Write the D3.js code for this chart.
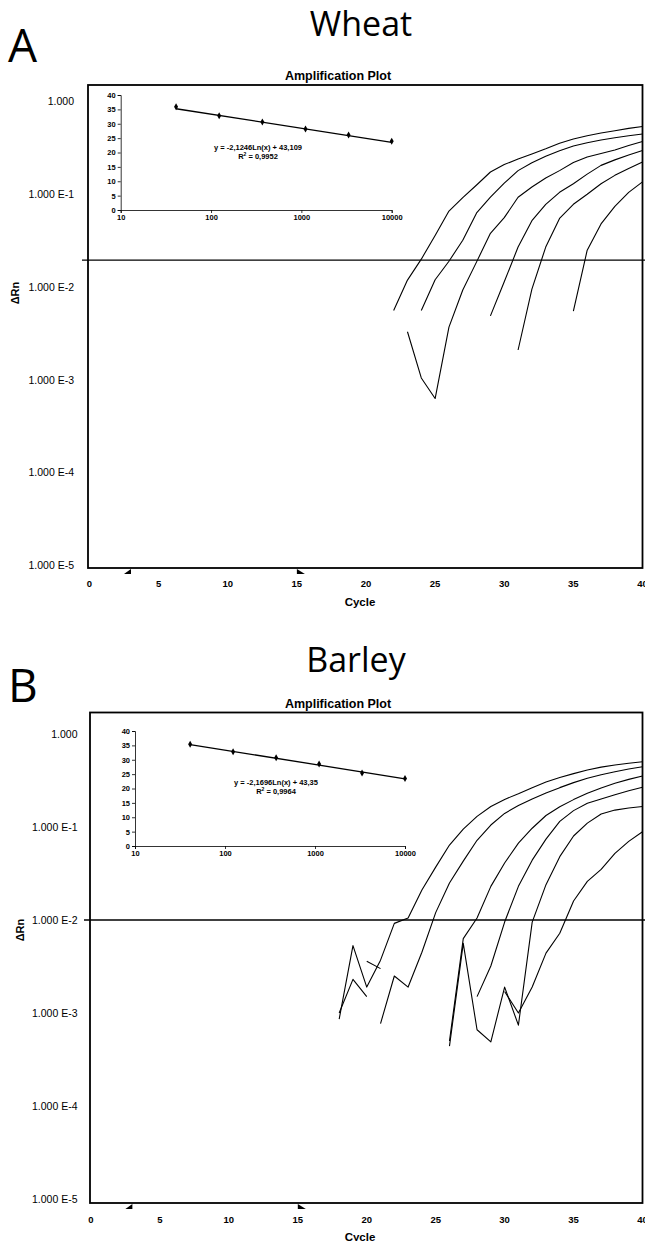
<!DOCTYPE html>
<html>
<head>
<meta charset="utf-8">
<script src="https://cdnjs.cloudflare.com/ajax/libs/d3/7.8.5/d3.min.js"></script>
<style>
  body { margin: 0; background: #fff; }
  svg { display: block; }
  text { font-family: "Liberation Sans", Arial, sans-serif; fill: #000; }
</style>
</head>
<body>
<svg id="chart" width="645" height="1241"></svg>
<script>
// axis ticks
const cycleTicks = [0, 5, 10, 15, 20, 25, 30, 35, 40];
const rnTicks = [1, 0.1, 0.01, 0.001, 0.0001, 0.00001];
const rnTickLabels = ["1.000", "1.000 E-1", "1.000 E-2", "1.000 E-3", "1.000 E-4", "1.000 E-5"];
const baselineMarks = [3, 15];

// standard curve insets
const stdConc = [41, 123, 370, 1111, 3333, 10000];
const stdTicksX = [10, 100, 1000, 10000];
const stdTicksY = [0, 5, 10, 15, 20, 25, 30, 35, 40];
const wheatCt = [35.9, 32.8, 30.6, 28.2, 26.1, 23.9];
const barleyCt = [35.4, 32.8, 30.7, 28.5, 25.4, 23.5];
const wheatFit = [-2.1246, 43.109];
const barleyFit = [-2.1696, 43.35];
const wheatEq = ["y = -2,1246Ln(x) + 43,109", "0,9952"];
const barleyEq = ["y = -2,1696Ln(x) + 43,35", "0,9964"];

// thresholds
const wheatThreshold = 0.0195;
const barleyThreshold = 0.01;

// amplification curves: first cycle + delta Rn per cycle (null = not plotted)
const wheatStart = [22, 24, 23, 29, 31, 35];
const wheatRn = [
  [0.0056, 0.0119, 0.02, 0.036, 0.066, 0.092, 0.126, 0.174, 0.209, 0.24, 0.272, 0.309, 0.355, 0.394, 0.427, 0.457, 0.484, 0.513, 0.537],
  [0.0056, 0.012, 0.019, 0.032, 0.063, 0.093, 0.132, 0.18, 0.219, 0.257, 0.295, 0.331, 0.359, 0.385, 0.407, 0.427, 0.447],
  [0.0033, 0.00105, 0.00063, 0.0037, 0.0093, 0.0187, 0.038, 0.056, 0.093, 0.12, 0.15, 0.18, 0.22, 0.252, 0.275, 0.30, 0.335, 0.37],
  [0.0049, 0.0114, 0.027, 0.052, 0.078, 0.105, 0.13, 0.165, 0.205, 0.235, 0.265, 0.297],
  [0.0021, 0.0095, 0.027, 0.055, 0.078, 0.1, 0.13, 0.16, 0.19, 0.223],
  [0.0055, 0.025, 0.048, 0.074, 0.105, 0.136]
];
const barleyStart = [18, 21, 18, 20, 26, 30];
const barleyRn = [
  [0.00086, 0.0053, 0.0019, 0.0037, 0.0092, 0.0105, 0.021, 0.037, 0.064, 0.095, 0.13, 0.166, 0.198, 0.228, 0.265, 0.304, 0.34, 0.375, 0.41, 0.44, 0.465, 0.485, 0.504],
  [0.00077, 0.0025, 0.0019, 0.0045, 0.012, 0.025, 0.043, 0.072, 0.105, 0.14, 0.17, 0.2, 0.232, 0.265, 0.3, 0.334, 0.365, 0.393, 0.42, 0.445],
  [0.001, 0.0023, 0.0015, null, null, null, null, null, 0.0005, 0.0063, 0.0105, 0.023, 0.041, 0.067, 0.097, 0.133, 0.165, 0.197, 0.23, 0.263, 0.295, 0.325, 0.353],
  [0.0036, 0.003, null, null, null, null, null, null, 0.0015, 0.0032, 0.0095, 0.023, 0.044, 0.074, 0.115, 0.15, 0.18, 0.2, 0.222, 0.245, 0.267],
  [0.00044, 0.0056, 0.00066, 0.00049, 0.0019, 0.00074, 0.0095, 0.024, 0.048, 0.08, 0.11, 0.138, 0.152, 0.16, 0.166],
  [0.0017, 0.001, 0.0019, 0.0044, 0.0072, 0.016, 0.026, 0.035, 0.052, 0.07, 0.089]
];

const svg = d3.select("#chart");

function drawPanel(p) {
  const g = svg.append("g");
  const x = d3.scaleLinear().domain([0, 40]).range(p.xRange);
  const y = d3.scaleLog().domain([1e-5, 1]).range(p.yRange);

  // headings
  g.append("text").attr("x", p.titleX).attr("y", p.titleY)
    .attr("text-anchor", "middle")
    .style("font-family", "'Open Sans', sans-serif").style("font-size", "34px")
    .text(p.name);
  g.append("text").attr("x", 8).attr("y", p.letterY)
    .style("font-family", "'Open Sans', sans-serif").style("font-size", "46px")
    .text(p.letter);
  g.append("text").attr("x", 338).attr("y", p.box.t - 5)
    .attr("text-anchor", "middle")
    .style("font-weight", "bold").style("font-size", "12.5px")
    .text("Amplification Plot");

  // plot frame
  g.append("rect")
    .attr("x", p.box.l).attr("y", p.box.t)
    .attr("width", p.box.r - p.box.l).attr("height", p.box.b - p.box.t)
    .attr("fill", "none").attr("stroke", "#000").attr("stroke-width", 1.8);

  // y tick labels
  g.selectAll(".ylab").data(rnTicks).join("text")
    .attr("x", p.yLabelX).attr("y", d => y(d)).attr("dy", "0.35em")
    .attr("text-anchor", "end").style("font-size", "10.5px")
    .text((d, i) => rnTickLabels[i]);
  g.append("text")
    .attr("transform", `translate(${p.rnLabel[0]},${p.rnLabel[1]}) rotate(-90)`)
    .attr("text-anchor", "middle").attr("dy", "0.35em")
    .style("font-weight", "bold").style("font-size", "11px")
    .text("\u0394Rn");

  // x tick labels
  g.selectAll(".xlab").data(cycleTicks).join("text")
    .attr("x", d => x(d)).attr("y", p.xLabelY)
    .attr("text-anchor", "middle")
    .style("font-weight", "bold").style("font-size", "9.5px")
    .text(d => d);
  g.append("text").attr("x", 360).attr("y", p.cycleY)
    .attr("text-anchor", "middle")
    .style("font-weight", "bold").style("font-size", "11.5px")
    .text("Cycle");

  // baseline start / end markers
  const by = p.box.b + 1;
  g.append("path")
    .attr("d", `M${x(baselineMarks[0])},${by} L${x(baselineMarks[0])},${by + 5} L${x(baselineMarks[0]) - 7},${by + 5} Z`)
    .attr("fill", "#000");
  g.append("path")
    .attr("d", `M${x(baselineMarks[1])},${by} L${x(baselineMarks[1])},${by + 5} L${x(baselineMarks[1]) + 8},${by + 5} Z`)
    .attr("fill", "#000");

  // threshold
  g.append("line")
    .attr("x1", p.box.l - 6).attr("x2", 645)
    .attr("y1", y(p.threshold)).attr("y2", y(p.threshold))
    .attr("stroke", "#000").attr("stroke-width", 1.3);

  // amplification curves
  const line = d3.line()
    .defined(d => d[1] != null)
    .x(d => x(d[0])).y(d => y(d[1]));
  const curves = p.rn.map((vals, i) => vals.map((v, j) => [p.start[i] + j, v]));
  g.selectAll(".curve").data(curves).join("path")
    .attr("d", line)
    .attr("fill", "none").attr("stroke", "#000").attr("stroke-width", 1.1)
    .attr("stroke-linejoin", "round");

  // standard curve inset
  const ix = d3.scaleLog().domain([10, 10000]).range([p.inset.l, p.inset.r]);
  const iy = d3.scaleLinear().domain([0, 40]).range([p.inset.b, p.inset.t]);
  const ia = g.append("g");
  ia.append("g").attr("transform", `translate(0,${p.inset.b})`)
    .call(d3.axisBottom(ix).tickValues(stdTicksX).tickSize(3).tickPadding(2).tickFormat(d3.format("d")));
  ia.append("g").attr("transform", `translate(${p.inset.l},0)`)
    .call(d3.axisLeft(iy).tickValues(stdTicksY).tickSize(3).tickPadding(2));
  ia.selectAll("text").style("font-family", "'Liberation Sans', Arial, sans-serif")
    .style("font-size", "7.5px").style("font-weight", "bold");
  ia.selectAll("path, line").attr("stroke", "#000").attr("stroke-width", 0.8);

  const ends = [stdConc[0], stdConc[stdConc.length - 1]];
  g.append("path")
    .attr("d", d3.line().x(d => ix(d)).y(d => iy(p.fit[0] * Math.log(d) + p.fit[1]))(ends))
    .attr("stroke", "#000").attr("stroke-width", 1.3).attr("fill", "none");
  g.selectAll(".pt").data(stdConc).join("path")
    .attr("transform", (d, i) => `translate(${ix(d)},${iy(p.ct[i])})`)
    .attr("d", d3.symbol(d3.symbolDiamond, 14))
    .attr("fill", "#000");

  g.append("text").attr("x", p.eqX).attr("y", p.eqY)
    .attr("text-anchor", "middle")
    .style("font-size", "7.5px").style("font-weight", "bold")
    .text(p.eq[0]);
  const r2 = g.append("text").attr("x", p.eqX).attr("y", p.eqY + 8.5)
    .attr("text-anchor", "middle")
    .style("font-size", "7.5px").style("font-weight", "bold");
  r2.append("tspan").text("R");
  r2.append("tspan").attr("dy", -3).style("font-size", "5px").text("2");
  r2.append("tspan").attr("dy", 3).text(" = " + p.eq[1]);
}

drawPanel({
  name: "Wheat", letter: "A", titleX: 361, titleY: 36, letterY: 62,
  box: { l: 88, t: 85, r: 642.5, b: 568 },
  xRange: [89.5, 642.5], yRange: [565.5, 101.5],
  yLabelX: 74, rnLabel: [15, 293], xLabelY: 586.5, cycleY: 606,
  inset: { l: 120.7, r: 391.7, t: 95, b: 210 },
  eqX: 258, eqY: 150,
  threshold: wheatThreshold, start: wheatStart, rn: wheatRn,
  ct: wheatCt, fit: wheatFit, eq: wheatEq
});

drawPanel({
  name: "Barley", letter: "B", titleX: 356, titleY: 672, letterY: 702,
  box: { l: 90, t: 712.5, r: 642.5, b: 1203 },
  xRange: [91, 642.5], yRange: [1199, 734],
  yLabelX: 77.5, rnLabel: [20, 930], xLabelY: 1223, cycleY: 1241,
  inset: { l: 135, r: 405, t: 731, b: 846 },
  eqX: 276, eqY: 785,
  threshold: barleyThreshold, start: barleyStart, rn: barleyRn,
  ct: barleyCt, fit: barleyFit, eq: barleyEq
});
</script>
</body>
</html>
